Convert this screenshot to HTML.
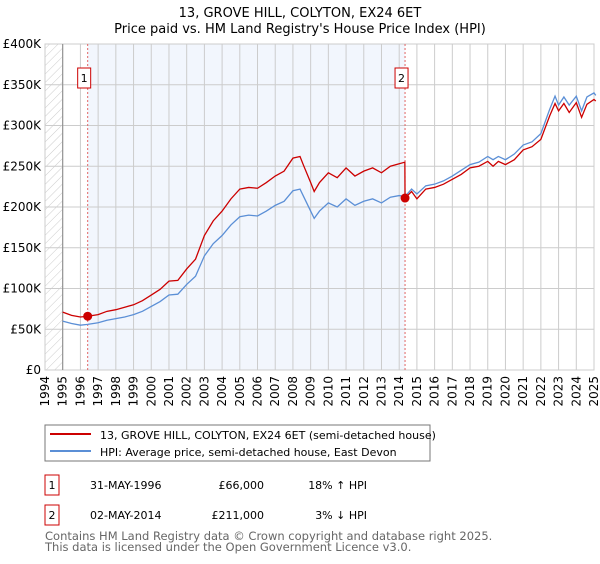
<!DOCTYPE html>
<html><head><meta charset="utf-8"><style>
body{margin:0;background:#fff;width:600px;height:560px;overflow:hidden;font-family:"DejaVu Sans","Liberation Sans",sans-serif}
svg text{font-family:"DejaVu Sans","Liberation Sans",sans-serif}
</style></head><body>
<svg id="c" width="600" height="560">
<defs><pattern id="hatch" width="6" height="6" patternUnits="userSpaceOnUse" patternTransform="rotate(45)"><line x1="0" y1="0" x2="0" y2="6" stroke="#ccc" stroke-width="1"/></pattern></defs>
<text x="300" y="17" text-anchor="middle" font-size="13">13, GROVE HILL, COLYTON, EX24 6ET</text>
<text x="300" y="33" text-anchor="middle" font-size="13">Price paid vs. HM Land Registry's House Price Index (HPI)</text>
<g id="plot"></g>
<rect x="45" y="425" width="385" height="36" fill="#fff" stroke="#777"/>
<line x1="50" y1="434" x2="91" y2="434" stroke="#cc0000" stroke-width="2"/>
<text x="100" y="439" font-size="11">13, GROVE HILL, COLYTON, EX24 6ET (semi-detached house)</text>
<line x1="50" y1="451" x2="91" y2="451" stroke="#5b8fd6" stroke-width="2"/>
<text x="100" y="456" font-size="11">HPI: Average price, semi-detached house, East Devon</text>
<g font-size="11">
<rect x="45" y="475" width="14" height="20" fill="#fff" stroke="#cc0000"/><text x="52" y="489" text-anchor="middle">1</text>
<text x="90" y="489">31-MAY-1996</text><text x="264" y="489" text-anchor="end">£66,000</text><text x="367" y="489" text-anchor="end">18% ↑ HPI</text>
<rect x="45" y="505" width="14" height="20" fill="#fff" stroke="#cc0000"/><text x="52" y="519" text-anchor="middle">2</text>
<text x="90" y="519">02-MAY-2014</text><text x="264" y="519" text-anchor="end">£211,000</text><text x="367" y="519" text-anchor="end">3% ↓ HPI</text>
</g>
<text x="45" y="540" font-size="11.5" fill="#666">Contains HM Land Registry data © Crown copyright and database right 2025.</text>
<text x="45" y="551" font-size="11.5" fill="#666">This data is licensed under the Open Government Licence v3.0.</text>
</svg>
<script>
const yTicks=[0,50000,100000,150000,200000,250000,300000,350000,400000];
const yTickLabels=["£0","£50K","£100K","£150K","£200K","£250K","£300K","£350K","£400K"];
const years=[1994,1995,1996,1997,1998,1999,2000,2001,2002,2003,2004,2005,2006,2007,2008,2009,2010,2011,2012,2013,2014,2015,2016,2017,2018,2019,2020,2021,2022,2023,2024,2025];
const sales=[{t:1996.41,v:66000,label:"1"},{t:2014.33,v:211000,label:"2"}];
const hpiT=[1995,1995.5,1996,1996.41,1997,1997.5,1998,1998.5,1999,1999.5,2000,2000.5,2001,2001.5,2002,2002.5,2003,2003.5,2004,2004.5,2005,2005.5,2006,2006.5,2007,2007.5,2008,2008.4,2008.6,2009,2009.2,2009.5,2010,2010.5,2011,2011.5,2012,2012.5,2013,2013.5,2014,2014.33,2014.7,2015,2015.5,2016,2016.5,2017,2017.5,2018,2018.5,2019,2019.3,2019.6,2020,2020.5,2021,2021.5,2022,2022.5,2022.8,2023,2023.3,2023.6,2024,2024.3,2024.6,2025,2025.1];
const hpiV=[60,57,55,56,58,61,63,65,68,72,78,84,92,93,105,115,140,155,165,178,188,190,189,195,202,207,220,222,213,195,186,195,205,200,210,202,207,210,205,212,214,213,222,216,226,228,232,238,245,252,255,262,258,262,258,265,276,280,290,320,336,325,335,325,336,318,335,340,337];
const priceT=[1995,1995.5,1996,1996.41,1997,1997.5,1998,1998.5,1999,1999.5,2000,2000.5,2001,2001.5,2002,2002.5,2003,2003.5,2004,2004.5,2005,2005.5,2006,2006.5,2007,2007.5,2008,2008.4,2008.6,2009,2009.2,2009.5,2010,2010.5,2011,2011.5,2012,2012.5,2013,2013.5,2014,2014.32,2014.33,2014.7,2015,2015.5,2016,2016.5,2017,2017.5,2018,2018.5,2019,2019.3,2019.6,2020,2020.5,2021,2021.5,2022,2022.5,2022.8,2023,2023.3,2023.6,2024,2024.3,2024.6,2025,2025.1];
const priceV=[71,67,65,66,68,72,74,77,80,85,92,99,109,110,124,136,165,183,195,210,222,224,223,230,238,244,260,262,251,230,219,230,242,236,248,238,244,248,242,250,253,255,211,219,210,222,224,228,234,240,248,250,256,250,256,252,258,270,274,283,312,327,318,327,316,328,310,326,332,330];
const L=45,R=594,T=44,B=370,t0=1994,t1=2025;
const X=t=>L+(t-t0)/(t1-t0)*(R-L);
const Y=v=>B-v/400000*(B-T);
const NS="http://www.w3.org/2000/svg",g=document.getElementById('plot');
function mk(tag,a,p){const e=document.createElementNS(NS,tag);for(const k in a)e.setAttribute(k,a[k]);(p||g).appendChild(e);return e;}
let e;
e=mk('rect',{x:L,y:T,width:R-L,height:B-T,fill:'#fff',stroke:'#ccc'});


e=mk('rect',{x:X(sales[0].t),y:T,width:X(sales[1].t)-X(sales[0].t),height:B-T,fill:'#f2f6fd'});


e=mk('rect',{x:L,y:T,width:X(1995)-L,height:B-T,fill:'url(#hatch)'});


yTicks.forEach((v,i)=>{
 e=mk('line',{x1:L,x2:R,y1:Y(v),y2:Y(v),stroke:'#ccc'});
 
 
 e=mk('text',{x:L-4,y:Y(v)+4,'text-anchor':'end','font-size':12});
 e.textContent=yTickLabels[i];
 
 
});
years.forEach(yr=>{
 e=mk('line',{x1:X(yr),x2:X(yr),y1:T,y2:B,stroke:'#ccc'});
 
 
 e=mk('text',{x:0,y:0,'text-anchor':'end','font-size':12,transform:`translate(${X(yr)+4},${B+6}) rotate(-90)`});
 e.textContent=yr;
 
 
});
e=mk('line',{x1:X(1995),x2:X(1995),y1:T,y2:B,stroke:'#888'});


sales.forEach(s=>{
 e=mk('line',{x1:X(s.t),x2:X(s.t),y1:T,y2:B,stroke:'#e06666','stroke-dasharray':'2,2'});
 
 
 e=mk('rect',{x:X(s.t)-10,y:68,width:13,height:20,fill:'#fff',stroke:'#cc0000'});
 
 
 e=mk('text',{x:X(s.t)-3.5,y:82,'text-anchor':'middle','font-size':11});
 e.textContent=s.label;
 
 
});
e=mk('polyline',{points:hpiT.map((t,i)=>X(t)+','+Y(hpiV[i]*1000)).join(' '),fill:'none',stroke:'#5b8fd6','stroke-width':1.3});


e=mk('polyline',{points:priceT.map((t,i)=>X(t)+','+Y(priceV[i]*1000)).join(' '),fill:'none',stroke:'#cc0000','stroke-width':1.3});


sales.forEach(s=>{
 e=mk('circle',{cx:X(s.t),cy:Y(s.v),r:4.5,fill:'#cc0000'});
 
 
});
</script>
</body></html>
